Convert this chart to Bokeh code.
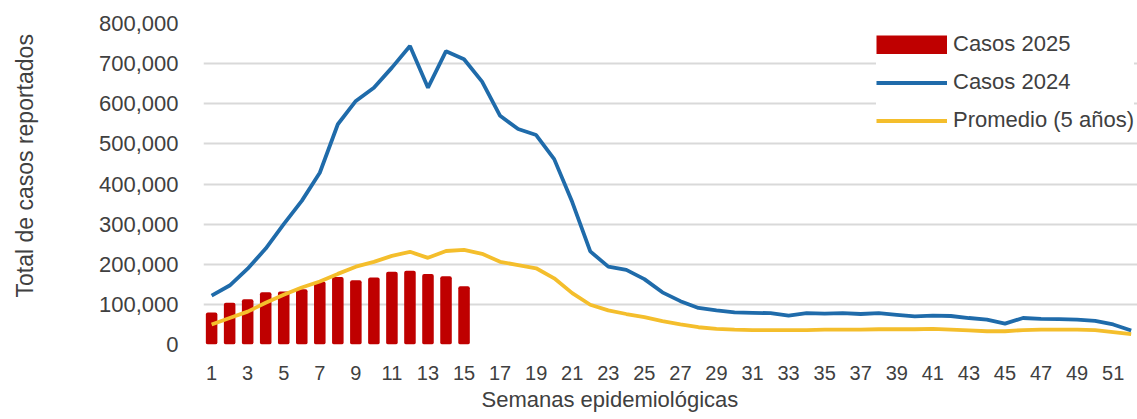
from bokeh.plotting import figure
from bokeh.models import (Range1d, FixedTicker, NumeralTickFormatter, Legend,
                          LegendItem, Title, ColumnDataSource)
from bokeh.embed import file_html
from bokeh.resources import INLINE

weeks = list(range(1, 53))
week_ticks = list(range(1, 52, 2))

cases_2025 = [80000, 104000, 113000, 130000, 132000, 138000, 157000, 168000,
              160000, 167000, 181000, 184000, 176000, 170000, 145000]

cases_2024 = [122000, 147000, 189000, 239000, 300000, 358000, 428000, 549000,
              607000, 640000, 690000, 744000, 640000, 731000, 711000, 655000,
              570000, 537000, 522000, 462000, 355000, 232000, 194000, 186000,
              163000, 130000, 108000, 91000, 85000, 80000, 79000, 78000,
              72000, 78000, 77000, 78000, 76000, 78000, 74000, 70000,
              72000, 71000, 66000, 62000, 52000, 66000, 64000, 63000,
              62000, 59000, 50000, 35000]

avg_5y = [50000, 66000, 82000, 104000, 124000, 142000, 157000, 176000,
          194000, 206000, 221000, 231000, 216000, 233000, 236000, 226000,
          206000, 198000, 190000, 165000, 128000, 99000, 85000, 76000,
          68000, 58000, 50000, 43000, 39000, 37000, 36000, 36000,
          36000, 36000, 37000, 37000, 37000, 38000, 38000, 38000,
          39000, 37000, 35000, 33000, 33000, 36000, 37000, 37000,
          37000, 36000, 31000, 26000]

series_names = ["Casos 2025", "Casos 2024", "Promedio (5 años)"]
x_title = "Semanas epidemiológicas"
y_title = "Total de casos reportados"

FONT = "Liberation Sans"
TXT = "#404040"
RED = "#BF0000"
BLUE = "#1F6BAA"
GOLD = "#F4BE2C"

p = figure(frame_width=934, frame_height=321, output_backend="svg",
           toolbar_location=None, x_range=Range1d(0.55, 52.35),
           y_range=Range1d(0, 800000), min_border_left=203,
           min_border_right=0, min_border_top=23, min_border_bottom=75)
p.outline_line_color = None
p.background_fill_color = "white"

src_bar = ColumnDataSource(dict(x=weeks[:len(cases_2025)], y=cases_2025))
bars = p.vbar(x="x", top="y", width=0.64, source=src_bar,
              fill_color=RED, line_color=None, border_radius=2)
src_l = ColumnDataSource(dict(x=weeks, b=cases_2024, a=avg_5y))
l_avg = p.line(x="x", y="a", source=src_l, line_color=GOLD, line_width=3.8)
l_24 = p.line(x="x", y="b", source=src_l, line_color=BLUE, line_width=3.8)
# legend swatch for the bars (full-size box, draws nothing in the plot)
nan = float("nan")
swatch = p.line(x=[nan, nan], y=[nan, nan], line_color=RED, line_width=19)

p.xaxis.ticker = FixedTicker(ticks=week_ticks)
p.yaxis.ticker = FixedTicker(ticks=list(range(0, 800001, 100000)))
p.yaxis.formatter = NumeralTickFormatter(format="0,0")
p.xgrid.visible = False
p.ygrid.grid_line_color = "#d9d9d9"
p.ygrid.grid_line_width = 2

for ax in (p.xaxis[0], p.yaxis[0]):
    ax.axis_line_color = None
    ax.major_tick_line_color = None
    ax.minor_tick_line_color = None
    ax.major_tick_out = 0
    ax.major_tick_in = 0
    ax.minor_tick_out = 0
    ax.major_label_text_font = FONT
    ax.major_label_text_color = TXT
p.xaxis.major_label_text_font_size = "20px"
p.xaxis.major_label_standoff = 21
p.yaxis.major_label_text_font_size = "22px"
p.yaxis.major_label_standoff = 25

legend = Legend(items=[LegendItem(label=series_names[0], renderers=[swatch]),
                       LegendItem(label=series_names[1], renderers=[l_24]),
                       LegendItem(label=series_names[2], renderers=[l_avg])],
                location=(673, 211), padding=5, margin=0,
                glyph_width=71, glyph_height=19, label_height=19,
                label_standoff=6, spacing=12,
                label_text_font=FONT, label_text_font_size="22px",
                label_text_color=TXT, background_fill_color="white",
                background_fill_alpha=1.0, border_line_color=None)
p.add_layout(legend)

# spacer between the y axis and its title
p.add_layout(Title(text=" ", standoff=45, text_font_size="10px"), "left")
p.add_layout(Title(text=y_title, align="left", offset=47, standoff=0,
                   vertical_align="bottom",
                   text_font=FONT, text_font_size="23px",
                   text_font_style="normal", text_color=TXT), "left")
p.add_layout(Title(text=x_title, align="left", offset=278, standoff=4,
                   text_font=FONT, text_font_size="22px",
                   text_font_style="normal", text_color=TXT), "below")

open("out.html", "w").write(file_html(p, INLINE))
